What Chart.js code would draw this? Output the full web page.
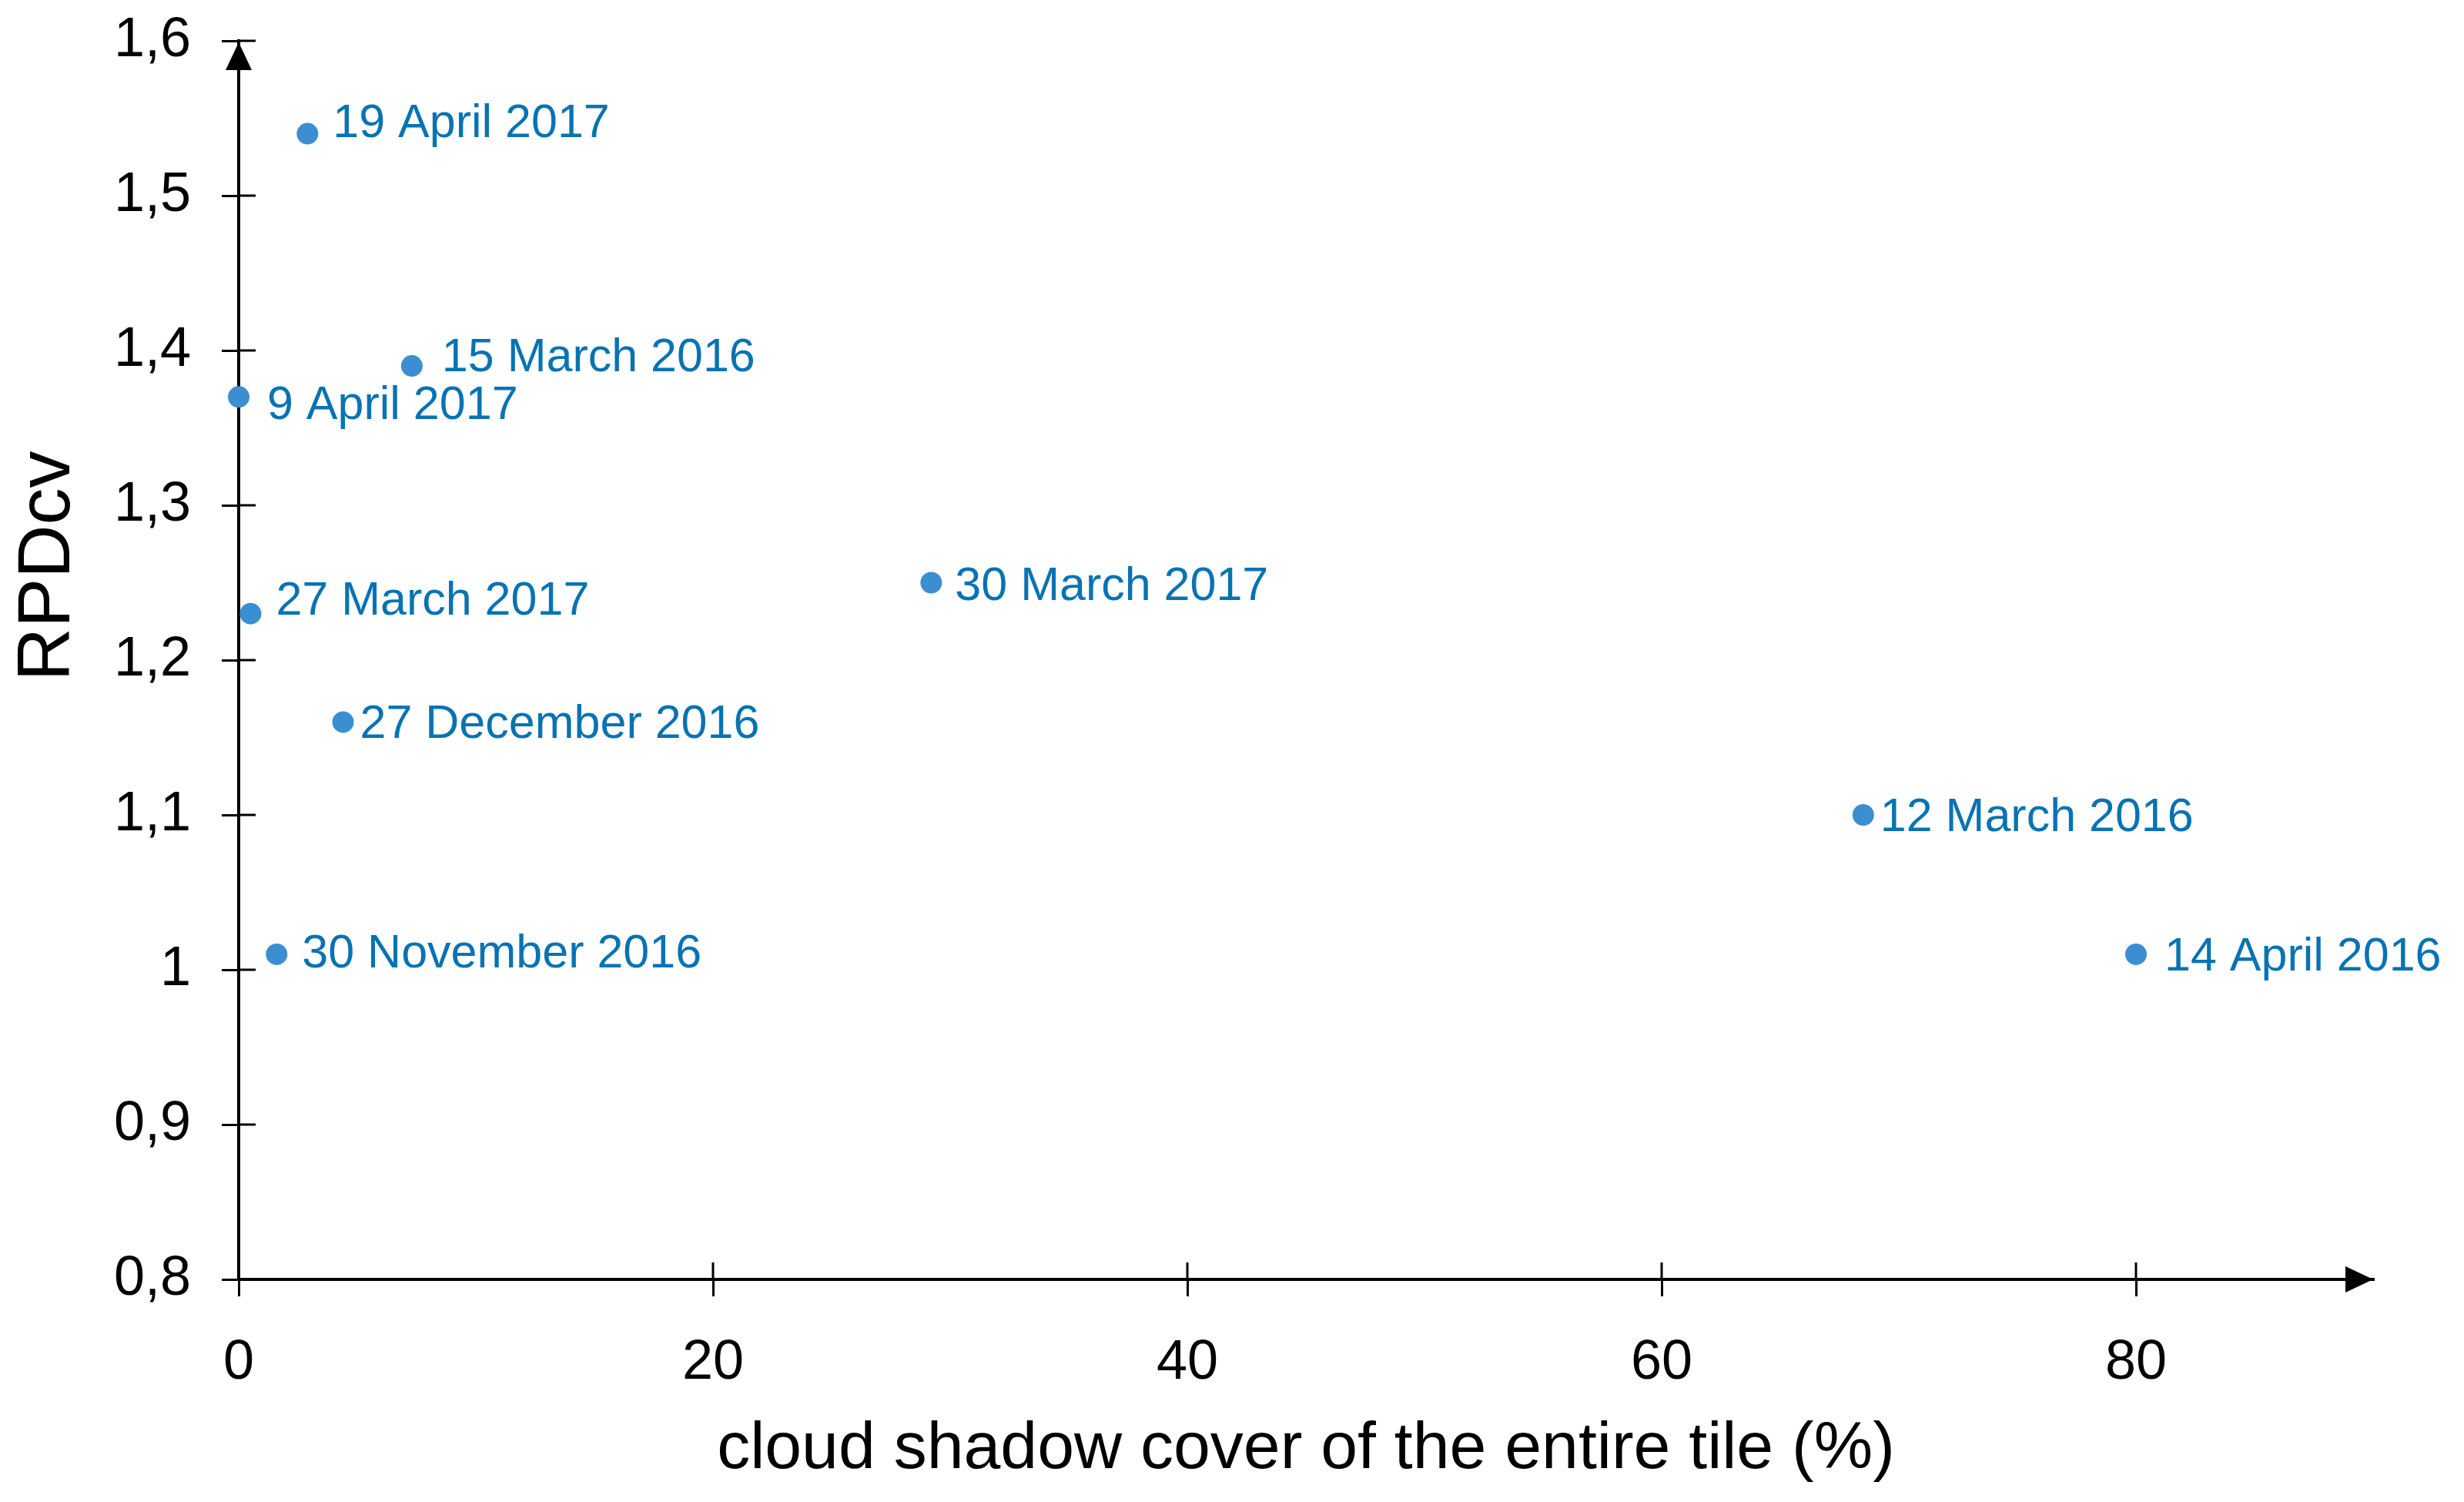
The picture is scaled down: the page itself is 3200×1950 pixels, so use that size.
<!DOCTYPE html>
<html>
<head>
<meta charset="utf-8">
<script src="https://cdn.jsdelivr.net/npm/chart.js@4.4.1/dist/chart.umd.min.js"></script>
<style>
  html, body { margin: 0; padding: 0; background: #fff; }
  canvas { display: block; }
</style>
</head>
<body>
<canvas id="rpdChart" width="3200" height="1950"></canvas>
<script>
// data
const dates = ['19 April 2017', '15 March 2016', '9 April 2017', '27 March 2017', '30 March 2017',
               '27 December 2016', '12 March 2016', '30 November 2016', '14 April 2016'];
const shadowCover = [2.9, 7.3, 0.0, 0.5, 29.2, 4.4, 68.5, 1.6, 80.0];
const rpdcv = [1.54, 1.39, 1.37, 1.23, 1.25, 1.16, 1.10, 1.01, 1.01];

const xTicks = [0, 20, 40, 60, 80];
const yTicks = [0.8, 0.9, 1.0, 1.1, 1.2, 1.3, 1.4, 1.5, 1.6];
const yTickLabels = ['0,8', '0,9', '1', '1,1', '1,2', '1,3', '1,4', '1,5', '1,6'];
const yTitle = 'RPDcv';

// label offsets from the marker (px)
const labelOffsets = [[33, -12], [39, -10], [37, 12], [33, -16], [31, 6], [22, 4], [22, 4], [33, 0], [37, 4]];

const FONT = "'Liberation Sans', Arial, sans-serif";
const markerColor = '#3b8fd1';
const labelColor = '#0873b3';

// ticks crossing the axes + arrow heads + point labels + y title
const axisExtras = {
    id: 'axisExtras',
    afterDatasetsDraw(chart) {
        const ctx = chart.ctx;
        const xs = chart.scales.x, ys = chart.scales.y;
        const left = xs.getPixelForValue(0);
        const bottom = ys.getPixelForValue(0.8);
        const top = ys.getPixelForValue(1.6);
        const right = chart.chartArea.right;
        ctx.save();
        ctx.strokeStyle = '#000';
        ctx.lineWidth = 3;
        ctx.beginPath();
        xTicks.forEach(v => {
            const px = xs.getPixelForValue(v);
            ctx.moveTo(px, bottom);
            ctx.lineTo(px, bottom - 22);
        });
        yTicks.forEach(v => {
            const py = ys.getPixelForValue(v);
            ctx.moveTo(left, py);
            ctx.lineTo(left + 22, py);
        });
        ctx.stroke();

        ctx.fillStyle = '#000';
        ctx.beginPath();
        ctx.moveTo(left, top + 2);
        ctx.lineTo(left - 17, top + 38);
        ctx.lineTo(left + 17, top + 38);
        ctx.closePath();
        ctx.fill();
        ctx.beginPath();
        ctx.moveTo(right, bottom);
        ctx.lineTo(right - 36, bottom - 17);
        ctx.lineTo(right - 36, bottom + 17);
        ctx.closePath();
        ctx.fill();

        // y title sits a bit above the middle of the axis
        ctx.save();
        ctx.translate(64, top + (bottom - top) * 0.424);
        ctx.rotate(-Math.PI / 2);
        ctx.font = '96px ' + FONT;
        ctx.textAlign = 'center';
        ctx.textBaseline = 'middle';
        ctx.fillText(yTitle, 0, 0);
        ctx.restore();

        const meta = chart.getDatasetMeta(0);
        ctx.font = '61px ' + FONT;
        ctx.fillStyle = labelColor;
        ctx.textAlign = 'left';
        ctx.textBaseline = 'middle';
        meta.data.forEach((pt, i) => {
            ctx.fillText(dates[i], pt.x + labelOffsets[i][0], pt.y + labelOffsets[i][1]);
        });
        ctx.restore();
    }
};

const ctx = document.getElementById('rpdChart').getContext('2d');
new Chart(ctx, {
    type: 'scatter',
    data: {
        datasets: [{
            data: shadowCover.map((x, i) => ({ x: x, y: rpdcv[i] })),
            backgroundColor: markerColor,
            borderWidth: 0,
            pointRadius: 14,
            clip: false
        }]
    },
    options: {
        responsive: false,
        animation: false,
        devicePixelRatio: 1,
        layout: { padding: { top: 53, right: 118, bottom: 0, left: 0 } },
        plugins: {
            legend: { display: false },
            tooltip: { enabled: false }
        },
        scales: {
            x: {
                type: 'linear',
                min: 0,
                max: 90,
                afterBuildTicks: s => { s.ticks = xTicks.map(v => ({ value: v })); },
                afterFit: s => { s.height = 289; },
                grid: { display: true, drawOnChartArea: false, drawTicks: true, tickLength: 22, color: '#000', lineWidth: 3 },
                border: { display: true, color: '#000', width: 4 },
                ticks: { color: '#000', font: { family: FONT, size: 72 }, padding: 44, maxRotation: 0 },
                title: {
                    display: true,
                    text: 'cloud shadow cover of the entire tile (%)',
                    color: '#000',
                    font: { family: FONT, size: 86 },
                    padding: { top: 0, bottom: 16 }
                }
            },
            y: {
                type: 'linear',
                min: 0.8,
                max: 1.6,
                afterBuildTicks: s => { s.ticks = yTicks.map(v => ({ value: v })); },
                afterFit: s => { s.width = 310; s.paddingTop = 0; s.paddingBottom = 0; },
                grid: { display: true, drawOnChartArea: false, drawTicks: true, tickLength: 22, color: '#000', lineWidth: 3 },
                border: { display: true, color: '#000', width: 4 },
                ticks: {
                    color: '#000',
                    font: { family: FONT, size: 72 },
                    padding: 40,
                    callback: (v, i) => yTickLabels[i]
                },
                title: { display: false }
            }
        }
    },
    plugins: [axisExtras]
});
</script>
</body>
</html>
